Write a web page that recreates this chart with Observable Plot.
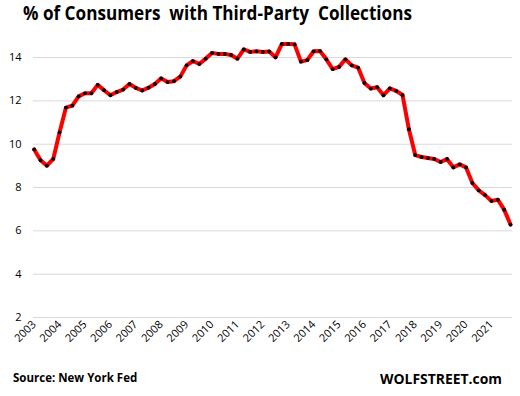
<!DOCTYPE html>
<html>
<head>
<meta charset="utf-8">
<script src="https://cdn.jsdelivr.net/npm/d3@7"></script>
<script src="https://cdn.jsdelivr.net/npm/@observablehq/plot@0.6"></script>
<style>
  html, body { margin: 0; padding: 0; background: #fff; }
  #wrap { position: relative; width: 520px; height: 396px; overflow: hidden; background: #fff; font-family: "Open Sans", sans-serif; }
  #title { position: absolute; left: 23px; top: 4px; font-size: 19px; line-height: 19px; font-weight: 700; white-space: pre; color: #000; transform-origin: left top; }
  #chart { position: absolute; left: 0; top: 28px; }
  #source { position: absolute; left: 13px; top: 371px; font-size: 11.5px; line-height: 14px; font-weight: 700; color: #000; }
  #brand { position: absolute; left: 380px; top: 371px; font-size: 13.5px; line-height: 16px; font-weight: 700; color: #000; transform-origin: left top; }
</style>
</head>
<body>
<div id="wrap">
  <div id="title">% of Consumers  with Third-Party  Collections</div>
  <div id="chart"></div>
  <div id="source">Source: New York Fed</div>
  <div id="brand">WOLFSTREET.com</div>
</div>
<script>
const years = [2003, 2004, 2005, 2006, 2007, 2008, 2009, 2010, 2011, 2012, 2013, 2014, 2015, 2016, 2017, 2018, 2019, 2020, 2021];
const quarterNames = ["Q1", "Q2", "Q3", "Q4"];
const yTicks = [2, 4, 6, 8, 10, 12, 14];
const values = [
  9.76, 9.26, 9.01, 9.32,
  10.55, 11.69, 11.78, 12.21,
  12.35, 12.35, 12.74, 12.49,
  12.26, 12.41, 12.52, 12.78,
  12.60, 12.48, 12.61, 12.78,
  13.04, 12.87, 12.91, 13.12,
  13.64, 13.84, 13.70, 13.95,
  14.21, 14.17, 14.17, 14.12,
  13.95, 14.38, 14.26, 14.29,
  14.26, 14.28, 14.01, 14.63,
  14.63, 14.61, 13.81, 13.88,
  14.29, 14.30, 13.92, 13.47,
  13.57, 13.92, 13.64, 13.54,
  12.83, 12.57, 12.63, 12.26,
  12.58, 12.46, 12.27, 10.69,
  9.50, 9.41, 9.36, 9.32,
  9.18, 9.32, 8.93, 9.07,
  8.93, 8.21, 7.87, 7.65,
  7.38, 7.44, 6.98, 6.29
];

const quarters = years.flatMap(y => quarterNames.map(q => `${y} ${q}`));
const firstQuarters = years.map(y => `${y} Q1`);
const data = values.map((v, i) => ({q: quarters[i], v}));

const chart = Plot.plot({
  width: 520,
  height: 332,
  marginTop: 7.4,
  marginBottom: 43,
  marginLeft: 33,
  marginRight: 8,
  x: {type: "point", domain: quarters, padding: 0, round: false, insetLeft: 0.7, insetRight: 2},
  y: {domain: [2, 15]},
  style: {fontFamily: "Open Sans, sans-serif", fontSize: "11px", color: "#000", background: "#fff", overflow: "visible"},
  marks: [
    Plot.ruleY(yTicks, {stroke: "#d9d9d9", strokeWidth: 1}),
    Plot.axisY({ticks: yTicks, tickSize: 0, tickPadding: 12, label: null, fill: "#000"}),
    Plot.axisX({ticks: firstQuarters, tickFormat: d => d.slice(0, 4), tickRotate: -45, tickSize: 0, tickPadding: 5, label: null, fill: "#000"}),
    Plot.line(data, {x: "q", y: "v", stroke: "#ff0000", strokeWidth: 4}),
    Plot.dot(data, {x: "q", y: "v", r: 1.9, fill: "#000", stroke: "none"})
  ]
});
document.getElementById("chart").appendChild(chart);

function fitWidth(id, target) {
  const el = document.getElementById(id);
  const w = el.getBoundingClientRect().width;
  if (w > 0) el.style.transform = `scaleX(${target / w})`;
}
fitWidth("title", 389);
fitWidth("brand", 122);
</script>
</body>
</html>
